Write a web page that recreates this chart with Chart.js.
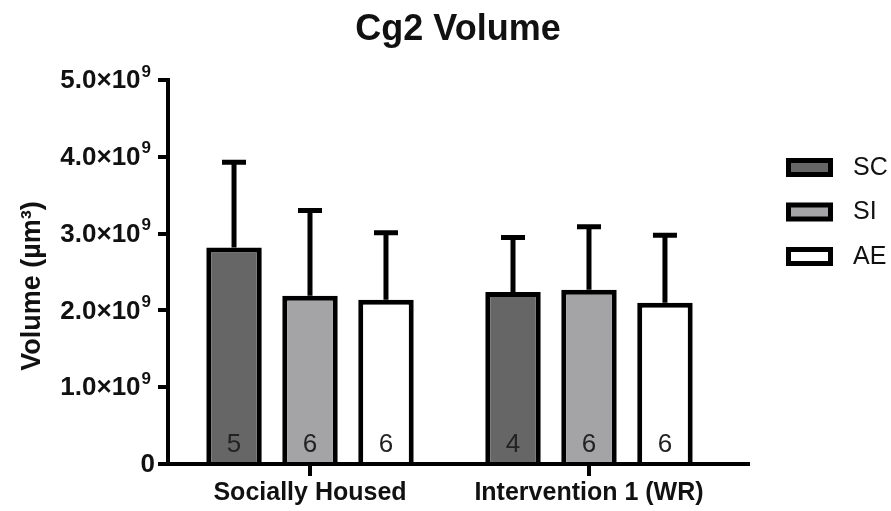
<!DOCTYPE html>
<html>
<head>
<meta charset="utf-8">
<script src="https://cdn.jsdelivr.net/npm/chart.js@4.4.1/dist/chart.umd.min.js"></script>
<style>
  html, body { margin: 0; padding: 0; background: #fff; }
  #wrap { width: 891px; height: 511px; }
</style>
</head>
<body>
<div id="wrap"><canvas id="cg2Chart"></canvas></div>
<script>
// data
const groups = ["Socially Housed", "Intervention 1 (WR)"];
const groupPos = [0, 1];
const seriesNames = ["SC", "SI", "AE"];
const scMean = [2.82e9, 2.24e9];
const siMean = [2.19e9, 2.27e9];
const aeMean = [2.14e9, 2.10e9];
const scSD = [1.11e9, 0.71e9];
const siSD = [1.11e9, 0.82e9];
const aeSD = [0.87e9, 0.88e9];
const scN = [5, 4];
const siN = [6, 6];
const aeN = [6, 6];
const yTicks = [0, 1e9, 2e9, 3e9, 4e9, 5e9];

const fills = ["#666666", "#a4a4a7", "#ffffff"];
const FONT = "'Liberation Sans', Arial, sans-serif";
const INK = "#111";

function points(means) {
    return means.map((m, i) => ({ x: groupPos[i], y: m }));
}

function makeSet(idx, means, sd, n) {
    return {
        label: seriesNames[idx],
        data: points(means),
        sd: sd,
        n: n,
        backgroundColor: fills[idx],
        borderColor: "#000",
        borderWidth: 5,
        borderSkipped: "start",
        categoryPercentage: 0.817,
        barPercentage: 0.73
    };
}

// error bars (upper only) + n counts inside bars
const barExtras = {
    id: "barExtras",
    afterDatasetsDraw(chart) {
        const ctx = chart.ctx;
        const y = chart.scales.y;
        const area = chart.chartArea;
        ctx.save();
        chart.data.datasets.forEach((ds, i) => {
            const meta = chart.getDatasetMeta(i);
            meta.data.forEach((bar, j) => {
                const top = y.getPixelForValue(ds.data[j].y + ds.sd[j]);
                ctx.strokeStyle = "#000";
                ctx.lineWidth = 5;
                ctx.lineCap = "butt";
                ctx.beginPath();
                ctx.moveTo(bar.x, bar.y);
                ctx.lineTo(bar.x, top);
                ctx.moveTo(bar.x - 12, top);
                ctx.lineTo(bar.x + 12, top);
                ctx.stroke();

                ctx.fillStyle = "#222";
                ctx.font = "26px " + FONT;
                ctx.textAlign = "center";
                ctx.textBaseline = "middle";
                ctx.fillText(String(ds.n[j]), bar.x, area.bottom - 19);
            });
        });
        // x axis line back on top of the bar bases
        ctx.strokeStyle = "#000";
        ctx.lineWidth = 4;
        ctx.beginPath();
        ctx.moveTo(area.left - 2, area.bottom);
        ctx.lineTo(area.right, area.bottom);
        ctx.stroke();
        ctx.restore();
    }
};

// y tick labels with superscript, y title, legend
const decorations = {
    id: "decorations",
    afterDraw(chart) {
        const ctx = chart.ctx;
        const y = chart.scales.y;
        ctx.save();
        ctx.fillStyle = INK;

        // tick labels
        yTicks.forEach(v => {
            const py = y.getPixelForValue(v);
            const right = 151;
            ctx.textBaseline = "middle";
            ctx.textAlign = "left";
            if (v === 0) {
                ctx.font = "bold 26px " + FONT;
                const w = ctx.measureText("0").width;
                ctx.fillText("0", right + 4 - w, py + 1);
                return;
            }
            const main = (v / 1e9).toFixed(1) + "×10";
            ctx.font = "bold 17px " + FONT;
            const ws = ctx.measureText("9").width;
            ctx.font = "bold 26px " + FONT;
            const wm = ctx.measureText(main).width;
            const x0 = right - ws - wm - 1;
            ctx.fillText(main, x0, py + 1);
            ctx.font = "bold 17px " + FONT;
            ctx.fillText("9", x0 + wm + 1, py - 8);
        });

        // y axis title
        ctx.save();
        ctx.translate(33, 286);
        ctx.rotate(-Math.PI / 2);
        ctx.textAlign = "center";
        ctx.textBaseline = "middle";
        ctx.font = "bold 27px " + FONT;
        ctx.fillText("Volume (µm³)", 0, 0);
        ctx.restore();

        // legend
        chart.data.datasets.forEach((ds, i) => {
            const bx = 786, by = 158 + i * 44.5;
            ctx.fillStyle = "#000";
            ctx.fillRect(bx, by, 47, 19);
            ctx.fillStyle = ds.backgroundColor;
            ctx.fillRect(bx + 5, by + 5, 37, 9);
            ctx.fillStyle = INK;
            ctx.font = "25px " + FONT;
            ctx.textAlign = "left";
            ctx.textBaseline = "middle";
            ctx.fillText(ds.label, 853, by + 10);
        });
        ctx.restore();
    }
};

new Chart(document.getElementById("cg2Chart"), {
    type: "bar",
    data: {
        datasets: [
            makeSet(0, scMean, scSD, scN),
            makeSet(1, siMean, siSD, siN),
            makeSet(2, aeMean, aeSD, aeN)
        ]
    },
    options: {
        responsive: true,
        maintainAspectRatio: false,
        animation: false,
        devicePixelRatio: 1,
        layout: { padding: { left: 0, right: 143, top: 0, bottom: 0 } },
        plugins: {
            legend: { display: false },
            tooltip: { enabled: false },
            title: {
                display: true,
                text: "Cg2 Volume",
                fullSize: false,
                color: INK,
                font: { family: FONT, size: 36, weight: "bold" },
                padding: { top: 8, bottom: 28.8 }
            }
        },
        scales: {
            x: {
                type: "linear",
                min: -0.509,
                max: 1.570,
                offset: false,
                afterBuildTicks: s => { s.ticks = groupPos.map(v => ({ value: v })); },
                afterFit: s => { s.height = 47; },
                ticks: {
                    autoSkip: false,
                    maxRotation: 0,
                    padding: 2,
                    color: INK,
                    font: { family: FONT, size: 25, weight: "bold" },
                    callback: (v, i) => groups[i]
                },
                grid: {
                    offset: false,
                    drawOnChartArea: false,
                    drawTicks: true,
                    tickLength: 12,
                    lineWidth: 4,
                    color: "#000"
                },
                border: { display: true, color: "#000", width: 4 }
            },
            y: {
                min: 0,
                max: 5e9,
                afterBuildTicks: s => { s.ticks = yTicks.map(v => ({ value: v })); },
                afterFit: s => { s.width = 168; },
                ticks: { display: false },
                grid: {
                    drawOnChartArea: false,
                    drawTicks: true,
                    tickLength: 10,
                    lineWidth: 4,
                    color: "#000"
                },
                border: { display: true, color: "#000", width: 4 }
            }
        }
    },
    plugins: [barExtras, decorations]
});
</script>
</body>
</html>
